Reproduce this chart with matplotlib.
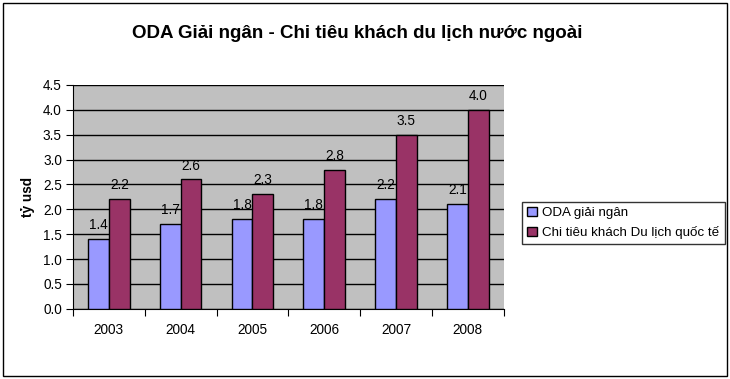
import matplotlib.pyplot as plt
import numpy as np
from matplotlib.patches import Rectangle

years = ["2003", "2004", "2005", "2006", "2007", "2008"]
oda = [1.4, 1.7, 1.8, 1.8, 2.2, 2.1]
chi_tieu = [2.2, 2.6, 2.3, 2.8, 3.5, 4.0]
labels_oda = ["1.4", "1.7", "1.8", "1.8", "2.2", "2.1"]
labels_ct = ["2.2", "2.6", "2.3", "2.8", "3.5", "4.0"]

plt.rcParams['font.family'] = ['Liberation Sans', 'DejaVu Sans']

fig = plt.figure(figsize=(7.3, 3.79), dpi=100)
ax = fig.add_axes([0.100, 0.185, 0.590, 0.591])

x = np.arange(len(years))
w = 0.29
b1 = ax.bar(x - w / 2, oda, w, color="#9999FF", edgecolor="black", linewidth=1, zorder=3,
            label="ODA giải ngân")
b2 = ax.bar(x + w / 2, chi_tieu, w, color="#993366", edgecolor="black", linewidth=1, zorder=3,
            label="Chi tiêu khách Du lịch quốc tế")

for i in range(len(years)):
    ax.annotate(labels_oda[i], (x[i] - w / 2, oda[i]), xytext=(0, 5), textcoords="offset points",
                ha="center", va="bottom", fontsize=9.8, zorder=4)
    ax.annotate(labels_ct[i], (x[i] + w / 2, chi_tieu[i]), xytext=(0, 5), textcoords="offset points",
                ha="center", va="bottom", fontsize=9.8, zorder=4)

ax.set_facecolor("#C0C0C0")
ax.set_xlim(-0.5, len(years) - 0.5)
ax.set_ylim(0, 4.5)
ax.set_yticks(np.arange(0, 4.51, 0.5))
ax.set_yticklabels([f"{v:.1f}" for v in np.arange(0, 4.51, 0.5)], fontsize=9.8)
ax.yaxis.grid(True, color="black", linewidth=1, zorder=0)
ax.set_axisbelow(True)

ax.set_xticks(np.arange(-0.5, len(years), 1.0), minor=False)
ax.set_xticklabels([])
ax.set_xticks(x, minor=True)
ax.set_xticklabels(years, minor=True, fontsize=9.8)
ax.tick_params(axis="x", which="minor", length=0, pad=10)
ax.tick_params(axis="x", which="major", length=5, direction="out", color="black")
ax.tick_params(axis="y", length=5, direction="out", pad=3)

for s in ["top", "right"]:
    ax.spines[s].set_visible(False)
ax.spines["left"].set_color("black")
ax.spines["bottom"].set_color("black")

ax.set_ylabel("tỷ usd", fontsize=9.8, fontweight="bold", labelpad=6)

fig.text(0.49, 0.912, "ODA Giải ngân - Chi tiêu khách du lịch nước ngoài",
         ha="center", va="center", fontsize=13.5, fontweight="bold")

leg = fig.legend(loc="center left", bbox_to_anchor=(0.706, 0.412), fontsize=9.6,
                 frameon=True, fancybox=False, edgecolor="black", handlelength=0.7,
                 handleheight=0.7, handletextpad=0.4, borderpad=0.4, labelspacing=0.5)
leg.get_frame().set_linewidth(1)

fig.patches.append(Rectangle((0.004, 0.008), 0.992, 0.985, transform=fig.transFigure,
                             fill=False, edgecolor="black", linewidth=1))

fig.savefig("out.png", dpi=100)
